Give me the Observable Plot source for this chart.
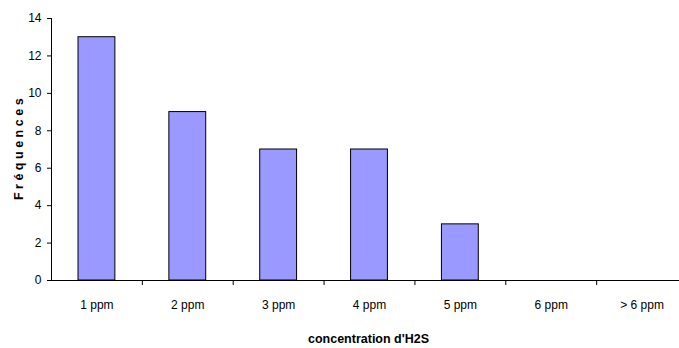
<!DOCTYPE html>
<html>
<head>
<meta charset="utf-8">
<script src="https://cdn.jsdelivr.net/npm/d3@7"></script>
<script src="https://cdn.jsdelivr.net/npm/@observablehq/plot@0.6"></script>
<style>
  body { margin: 0; background: #fff; }
  svg { font-family: "Liberation Sans", Arial, sans-serif; }
</style>
</head>
<body>
<div id="chart"></div>
<script>
const categories = ["1 ppm", "2 ppm", "3 ppm", "4 ppm", "5 ppm", "6 ppm", "> 6 ppm"];
const frequences = [13, 9, 7, 7, 3, 0, 0];
const yTicks = [0, 2, 4, 6, 8, 10, 12, 14];
const xTitle = "concentration d'H2S";
const yTitle = "Fréquences";

const data = categories.map((c, i) => ({cat: c, value: frequences[i]}));

const W = 679, H = 348;
const xRange = [51, 687];
const halfStep = (xRange[1] - xRange[0]) / categories.length / 2;

const chart = Plot.plot({
  width: W,
  height: H,
  marginLeft: 51,
  marginRight: 0,
  marginTop: 18,
  marginBottom: 68,
  style: {fontFamily: "Liberation Sans, Arial, sans-serif", fontSize: "12px", color: "#000", background: "#fff"},
  x: {domain: categories, range: xRange, padding: 0, round: false, axis: null},
  y: {domain: [0, 14], range: [280, 18], axis: null},
  marks: [
    Plot.barY(data, {x: "cat", y: "value", fill: "#9999FF", stroke: "#000", strokeWidth: 1, insetLeft: 27, insetRight: 27}),
    Plot.ruleY([0], {stroke: "#000"}),
    Plot.ruleX(categories.slice(0, 1), {x: d => d, dx: -halfStep, y1: 0, y2: 14, stroke: "#000"}),
    Plot.axisY({ticks: yTicks, tickSize: 4, tickPadding: 6, label: null, fontSize: 12, stroke: "#000"}),
    Plot.ruleX(categories.slice(1), {x: d => d, dx: -halfStep, y1: 0, y2: -0.27, stroke: "#000"}),
    Plot.axisX({ticks: categories, tickSize: 0, tickPadding: 20, label: null, fontSize: 12}),
    Plot.text([xTitle], {frameAnchor: "bottom", dy: 62, dx: 3, text: d => d, fontWeight: "bold", fontSize: 12.5}),
    Plot.text([yTitle], {frameAnchor: "left", textAnchor: "middle", rotate: -90, dx: -33, dy: -2, text: d => d, fontWeight: "bold", fontSize: 12.5, className: "ytitle"})
  ]
});
document.getElementById("chart").appendChild(chart);
d3.select(chart).selectAll(".ytitle text").style("letter-spacing", "3.5px");
</script>
</body>
</html>
